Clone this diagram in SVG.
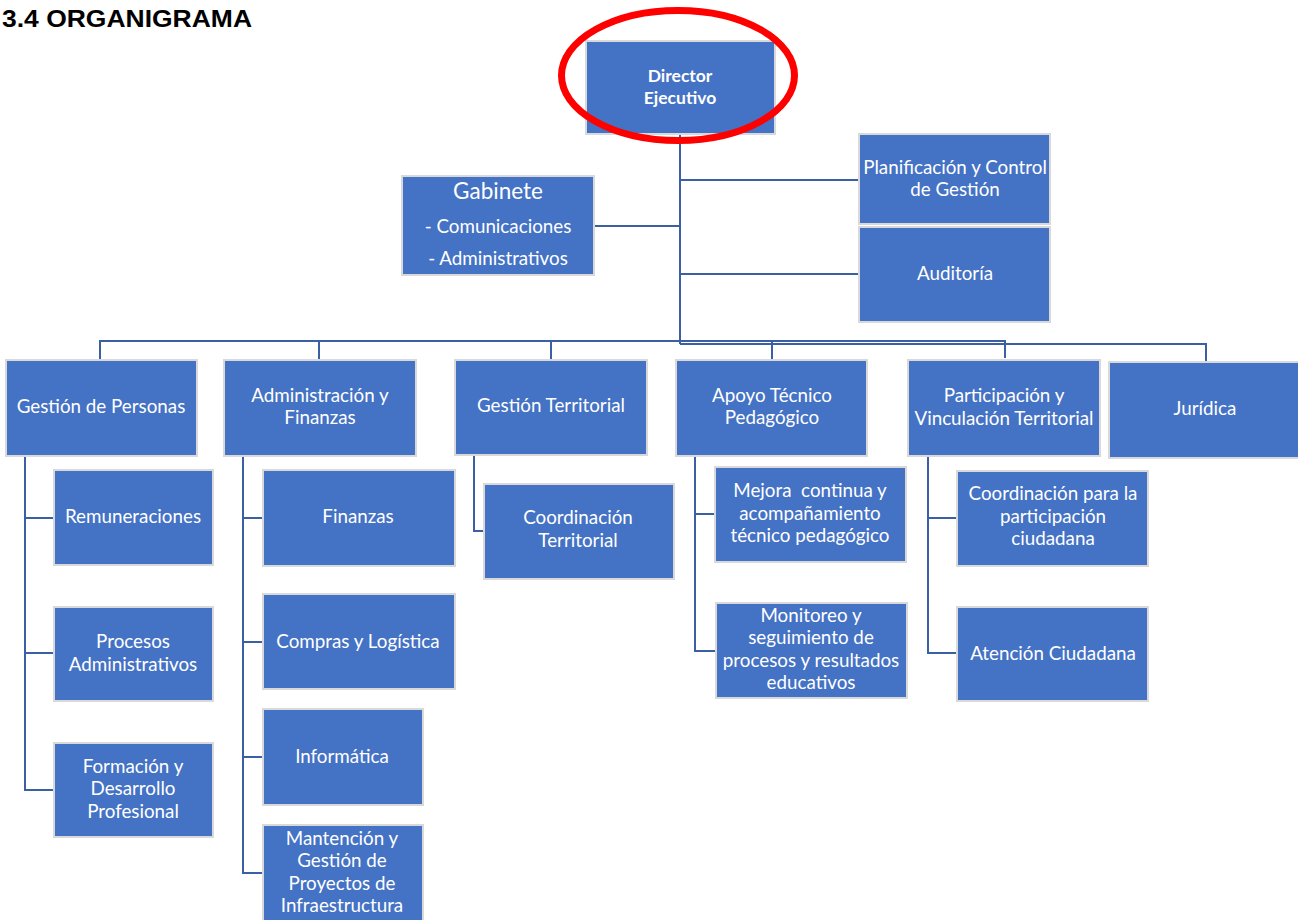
<svg xmlns="http://www.w3.org/2000/svg" width="1298" height="920" viewBox="0 0 1298 920">
<style>
.n rect{fill:#4472C4;stroke:#D9D9D9;stroke-width:2}
.n text{fill:#FFFFFF;font-family:Lato,"Noto Sans",sans-serif;font-size:18.8px;text-anchor:middle;white-space:pre}
.n text.b{font-weight:bold;font-size:17.5px}
.c path{fill:none;stroke:#3A5FA3;stroke-width:2}
.title{font-family:"Liberation Sans",Arial,sans-serif;font-weight:bold;font-size:23px;fill:#000}
</style>
<rect width="1298" height="920" fill="#FFFFFF"/>
<text class="title" x="2" y="27" textLength="250" lengthAdjust="spacingAndGlyphs">3.4 ORGANIGRAMA</text>

<g class="c" id="connectors">
<path d="M680 134V344"/>
<path d="M594 226H680"/>
<path d="M680 180H859"/>
<path d="M680 274H859"/>
<path d="M100 360V341H1005V358"/>
<path d="M319 341V360"/>
<path d="M551 341V360"/>
<path d="M772 341V360"/>
<path d="M680 344H1206V362"/>
<path d="M25 456V790H54"/>
<path d="M25 518H54"/>
<path d="M25 653H54"/>
<path d="M243 456V873H263"/>
<path d="M243 518H263"/>
<path d="M243 642H263"/>
<path d="M243 757H263"/>
<path d="M474 455V531H484"/>
<path d="M695 456V651H716"/>
<path d="M695 514H715"/>
<path d="M928 456V653H957"/>
<path d="M928 518H957"/>
</g>

<g class="n" id="director">
<rect x="586" y="41" width="189" height="93"/>
<text class="b" x="680" y="82">Director</text>
<text class="b" x="680" y="104">Ejecutivo</text>
</g>
<ellipse cx="678" cy="75.5" rx="116.5" ry="65" fill="none" stroke="#FF0000" stroke-width="7"/>

<g class="n" id="gabinete">
<rect x="402" y="176" width="192" height="99"/>
<text x="498" y="199" style="font-size:22.5px">Gabinete</text>
<text x="498" y="233">- Comunicaciones</text>
<text x="498" y="265">- Administrativos</text>
</g>

<g class="n" id="planificacion">
<rect x="859" y="134" width="191" height="90"/>
<text x="955" y="174">Planificación y Control</text>
<text x="955" y="196">de Gestión</text>
</g>

<g class="n" id="auditoria">
<rect x="859" y="227" width="191" height="95"/>
<text x="955" y="280">Auditoría</text>
</g>

<g class="n" id="gestion-personas">
<rect x="6" y="360" width="191" height="96"/>
<text x="101" y="413">Gestión de Personas</text>
</g>

<g class="n" id="admin-finanzas">
<rect x="224" y="360" width="192" height="96"/>
<text x="320" y="402">Administración y</text>
<text x="320" y="424">Finanzas</text>
</g>

<g class="n" id="gestion-territorial">
<rect x="455" y="360" width="192" height="95"/>
<text x="551" y="412">Gestión Territorial</text>
</g>

<g class="n" id="apoyo-tecnico">
<rect x="676" y="360" width="191" height="96"/>
<text x="772" y="402">Apoyo Técnico</text>
<text x="772" y="424">Pedagógico</text>
</g>

<g class="n" id="participacion">
<rect x="908" y="360" width="192" height="96"/>
<text x="1004" y="402">Participación y</text>
<text x="1004" y="425">Vinculación Territorial</text>
</g>

<g class="n" id="juridica">
<rect x="1109" y="362" width="193" height="96"/>
<text x="1205" y="415">Jurídica</text>
</g>

<g class="n" id="remuneraciones">
<rect x="54" y="470" width="159" height="95"/>
<text x="133" y="523">Remuneraciones</text>
</g>

<g class="n" id="procesos">
<rect x="54" y="607" width="159" height="94"/>
<text x="133" y="648">Procesos</text>
<text x="133" y="671">Administrativos</text>
</g>

<g class="n" id="formacion">
<rect x="54" y="743" width="159" height="94"/>
<text x="133" y="773">Formación y</text>
<text x="133" y="795">Desarrollo</text>
<text x="133" y="818">Profesional</text>
</g>

<g class="n" id="finanzas">
<rect x="263" y="470" width="192" height="96"/>
<text x="358" y="523">Finanzas</text>
</g>

<g class="n" id="compras">
<rect x="263" y="594" width="192" height="95"/>
<text x="358" y="648">Compras y Logística</text>
</g>

<g class="n" id="informatica">
<rect x="263" y="709" width="160" height="96"/>
<text x="342" y="763">Informática</text>
</g>

<g class="n" id="mantencion">
<rect x="263" y="825" width="160" height="100"/>
<text x="342" y="845">Mantención y</text>
<text x="342" y="867">Gestión de</text>
<text x="342" y="890">Proyectos de</text>
<text x="342" y="912">Infraestructura</text>
</g>

<g class="n" id="coordinacion-territorial">
<rect x="484" y="484" width="190" height="95"/>
<text x="578" y="524">Coordinación</text>
<text x="578" y="547">Territorial</text>
</g>

<g class="n" id="mejora">
<rect x="715" y="467" width="191" height="95"/>
<text x="810" y="497">Mejora  continua y</text>
<text x="810" y="520">acompañamiento</text>
<text x="810" y="542">técnico pedagógico</text>
</g>

<g class="n" id="monitoreo">
<rect x="716" y="603" width="191" height="95"/>
<text x="811" y="622">Monitoreo y</text>
<text x="811" y="644">seguimiento de</text>
<text x="811" y="667">procesos y resultados</text>
<text x="811" y="689">educativos</text>
</g>

<g class="n" id="coordinacion-participacion">
<rect x="957" y="471" width="191" height="95"/>
<text x="1053" y="500">Coordinación para la</text>
<text x="1053" y="523">participación</text>
<text x="1053" y="545">ciudadana</text>
</g>

<g class="n" id="atencion">
<rect x="957" y="607" width="191" height="94"/>
<text x="1053" y="660">Atención Ciudadana</text>
</g>
</svg>
